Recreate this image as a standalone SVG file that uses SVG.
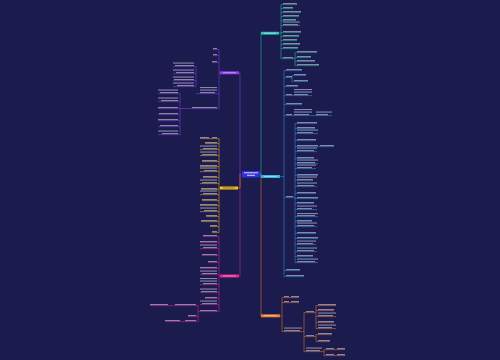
<svg xmlns="http://www.w3.org/2000/svg" width="500" height="360" viewBox="0 0 500 360">
<style>
.x{fill:#d0d0e8;opacity:.6}
.c{fill:none;stroke-width:.6}
.tl{stroke:#27b0a4}.cy{stroke:#2a8fd0}.or{stroke:#d0702a}.ye{stroke:#d8a418}.mg{stroke:#c8248e}.pu{stroke:#7a3cd8}
.nt{opacity:.55}
</style>
<rect width="500" height="360" fill="#1c1b4d"/>
<g id="connectors">
<path class="c pu" d="M242 174H240V73H239"/>
<path class="c ye" d="M240 174V188H238"/>
<path class="c mg" d="M240 174V276H239"/>
<path class="c tl" d="M260 174H261V33"/>
<path class="c cy" d="M260 174H261V177"/>
<path class="c or" d="M261 174V316"/>
<path class="c tl" d="M279 33H281M281 4.6V58.6M281 4.6H297M281 8.6H293M281 12.6H301M281 16.6H299M281 20.6H296M281 25.6H300M281 32.6H301M281 36.6H299M281 40.6H297M281 44.6H300M281 48.6H298M281 58.6H295M295 52.6V65.6M295 52.6H317M295 57.6H311M295 61.6H315M295 65.6H319"/>
<path class="c cy" d="M280 176.6H284M284 70.6V276.6M284 70.6H302M284 77.6H292M292 75.6V81.6M292 75.6H306M292 81.6H308M284 86.6H298M284 95.6H294H312M284 104.6H302M284 115.6H312H316H332M284 197.6H295M295 123.6V262.6M284 270.6H300M284 276.6H304"/>
<path class="c cy" d="M295 123.6H317M295 128.6H315M295 133.6H318M295 140.6H316M295 146.6H318H320H334M295 151.6H317M295 158.6H314M295 163.6H318M295 168.6H316M295 175.6H318M295 180.6H313M295 186.6H317M295 193.6H316M295 198.6H318M295 203.6H314M295 209.6H317M295 216.6H318M295 221.6H312M295 226.6H317M295 233.6H316M295 238.6H318M295 244.6H316M295 251.6H317M295 256.6H313M295 262.6H318"/>
<path class="c or" d="M280 316H282M282 297.6V331.6M282 297.6H289H299M282 302.6H289H299M282 331.6H304M304 312.6V351.6M304 312.6H316M316 305.6V328.6M316 305.6H336M316 310.6H334M316 316.6H336M316 322.6H334M316 328.6H336M304 336.6H316M316 334.6V341.6M316 334.6H332M316 341.6H330M304 351.6H324M324 349.6V355.6M324 349.6H334H337H345M324 355.6H334H337H345"/>
<path class="c pu" d="M220 73H219M219 49.6V108.6M219 49.6H213M219 55.6H213M219 62.6H212M219 93.6H200H196M196 66.6V86.6M196 66.6H173M196 73.6H173M196 80.6H173M196 86.6H173M219 108.6H192H180M180 93.6V134.6M180 93.6H158M180 101.6H158M180 108.6H158M180 114.6H158M180 120.6H158M180 126.6H158M180 134.6H158"/>
<path class="c ye" d="M220 188H219M219 138.6V232.6M219 138.6H200M219 143.6H205M219 149.6H200M219 155.6H200M219 161.6H202M219 166.6H200M219 171.6H200M219 177.6H203M219 183.6H200M219 189.6H201M219 194.6H200M219 200.6H202M219 205.6H200M219 211.6H200M219 216.6H206M219 221.6H201M219 226.6H210M219 232.6H212"/>
<path class="c mg" d="M220 276H219M219 236.6V311.6M219 236.6H203M219 242.6H200M219 248.6H200M219 255.6H202M219 262.6H208M219 268.6H200M219 274.6H200M219 284.6H200M219 292.6H200M219 298.6H205M219 304.6H200M219 311.6H200H198M198 305.6V321.6M198 305.6H175H168H150M198 316.6H188M198 321.6H185H180H165"/>
</g>
<g id="center"><rect x="242" y="171" width="18" height="6.5" fill="#3030e0"/><rect x="244" y="172.3" width="14" height="1" fill="#fff" opacity=".8"/><rect x="247" y="174.8" width="8" height="1" fill="#fff" opacity=".8"/></g>
<g id="b-teal"><rect x="261" y="31.8" width="18" height="2.8" fill="#2ec4b6"/><rect class="nt" x="264" y="32.8" width="12" height=".9" fill="#e8fffb"/></g>
<g id="b-cyan"><rect x="261" y="175" width="19" height="3" fill="#35b8e0"/><rect class="nt" x="264" y="176" width="13" height=".9" fill="#e8f8ff"/></g>
<g id="b-orange"><rect x="261" y="314.3" width="19" height="3" fill="#e8822e"/><rect class="nt" x="264" y="315.3" width="13" height=".9" fill="#fff2e6"/></g>
<g id="b-purple"><rect x="220" y="71.3" width="19" height="3" fill="#8e40f0"/><rect class="nt" x="223" y="72.3" width="13" height=".9" fill="#f2e8ff"/></g>
<g id="b-yellow"><rect x="220" y="186.5" width="18" height="3" fill="#f2c21c"/><rect class="nt" x="223" y="187.5" width="12" height=".9" fill="#4a3a00"/></g>
<g id="b-magenta"><rect x="220" y="274.5" width="19" height="3" fill="#e2268f"/><rect class="nt" x="223" y="275.5" width="13" height=".9" fill="#ffe8f4"/></g>
<g id="leaves-teal" class="x">
<rect x="283" y="3" width="14" height="1.1"/><rect x="283" y="7" width="10" height="1.1"/><rect x="283" y="11" width="18" height="1.1"/><rect x="283" y="15" width="16" height="1.1"/><rect x="283" y="19" width="13" height="1.1"/><rect x="283" y="21.5" width="17" height="1.1"/><rect x="283" y="24" width="15" height="1.1"/><rect x="283" y="31" width="18" height="1.1"/><rect x="283" y="35" width="16" height="1.1"/><rect x="283" y="39" width="14" height="1.1"/><rect x="283" y="43" width="17" height="1.1"/><rect x="283" y="47" width="15" height="1.1"/><rect x="283" y="57" width="10" height="1.1"/>
<rect x="297" y="51" width="20" height="1.1"/><rect x="297" y="56" width="14" height="1.1"/><rect x="297" y="60" width="18" height="1.1"/><rect x="297" y="64" width="22" height="1.1"/>
</g>
<g id="leaves-cyan" class="x">
<rect x="286" y="69" width="16" height="1.1"/><rect x="286" y="76" width="6" height="1.1"/><rect x="294" y="74" width="12" height="1.1"/><rect x="294" y="80" width="14" height="1.1"/><rect x="286" y="85" width="12" height="1.1"/><rect x="286" y="94" width="6" height="1.1"/><rect x="294" y="89" width="18" height="1.1"/><rect x="294" y="91.5" width="18" height="1.1"/><rect x="294" y="94" width="14" height="1.1"/><rect x="286" y="103" width="16" height="1.1"/><rect x="286" y="114" width="6" height="1.1"/><rect x="294" y="109" width="18" height="1.1"/><rect x="294" y="111.5" width="18" height="1.1"/><rect x="294" y="114" width="15" height="1.1"/><rect x="316" y="111.5" width="16" height="1.1"/><rect x="316" y="114" width="12" height="1.1"/><rect x="286" y="196" width="7" height="1.1"/><rect x="286" y="269" width="14" height="1.1"/><rect x="286" y="275" width="18" height="1.1"/>
<rect x="297" y="122" width="20" height="1.1"/><rect x="297" y="127" width="18" height="1.1"/><rect x="297" y="129.5" width="21" height="1.1"/><rect x="297" y="132" width="16" height="1.1"/><rect x="297" y="139" width="19" height="1.1"/><rect x="297" y="145" width="21" height="1.1"/><rect x="320" y="145" width="14" height="1.1"/><rect x="297" y="147.5" width="20" height="1.1"/><rect x="297" y="150" width="17" height="1.1"/><rect x="297" y="157" width="17" height="1.1"/><rect x="297" y="159.5" width="21" height="1.1"/><rect x="297" y="162" width="18" height="1.1"/><rect x="297" y="164.5" width="19" height="1.1"/><rect x="297" y="167" width="15" height="1.1"/><rect x="297" y="174" width="21" height="1.1"/><rect x="297" y="176.5" width="20" height="1.1"/><rect x="297" y="179" width="16" height="1.1"/><rect x="297" y="182.5" width="20" height="1.1"/><rect x="297" y="185" width="17" height="1.1"/><rect x="297" y="192" width="19" height="1.1"/><rect x="297" y="197" width="21" height="1.1"/><rect x="297" y="202" width="17" height="1.1"/><rect x="297" y="205.5" width="20" height="1.1"/><rect x="297" y="208" width="15" height="1.1"/><rect x="297" y="213" width="21" height="1.1"/><rect x="297" y="215" width="18" height="1.1"/><rect x="297" y="220" width="15" height="1.1"/><rect x="297" y="222.5" width="20" height="1.1"/><rect x="297" y="225" width="17" height="1.1"/><rect x="297" y="232" width="19" height="1.1"/><rect x="297" y="237" width="21" height="1.1"/><rect x="297" y="240.5" width="19" height="1.1"/><rect x="297" y="243" width="16" height="1.1"/><rect x="297" y="247.5" width="20" height="1.1"/><rect x="297" y="250" width="17" height="1.1"/><rect x="297" y="255" width="16" height="1.1"/><rect x="297" y="258.5" width="21" height="1.1"/><rect x="297" y="261" width="18" height="1.1"/>
</g>
<g id="leaves-orange" class="x">
<rect x="284" y="296" width="5" height="1.1"/><rect x="291" y="296" width="8" height="1.1"/><rect x="284" y="301" width="5" height="1.1"/><rect x="291" y="301" width="8" height="1.1"/><rect x="284" y="327.5" width="18" height="1.1"/><rect x="284" y="330" width="16" height="1.1"/><rect x="306" y="311" width="8" height="1.1"/>
<rect x="318" y="304" width="18" height="1.1"/><rect x="318" y="309" width="16" height="1.1"/><rect x="318" y="312.5" width="18" height="1.1"/><rect x="318" y="315" width="15" height="1.1"/><rect x="318" y="321" width="16" height="1.1"/><rect x="318" y="324.5" width="18" height="1.1"/><rect x="318" y="327" width="14" height="1.1"/><rect x="306" y="335" width="8" height="1.1"/><rect x="318" y="333" width="14" height="1.1"/><rect x="318" y="340" width="12" height="1.1"/><rect x="306" y="347.5" width="16" height="1.1"/><rect x="306" y="350" width="14" height="1.1"/><rect x="326" y="348" width="8" height="1.1"/><rect x="337" y="348" width="8" height="1.1"/><rect x="326" y="354" width="8" height="1.1"/><rect x="337" y="354" width="8" height="1.1"/>
</g>
<g id="leaves-purple" class="x">
<rect x="213" y="48" width="4" height="1.1"/><rect x="213" y="54" width="4" height="1.1"/><rect x="212" y="61" width="5" height="1.1"/><rect x="200" y="87" width="17" height="1.1"/><rect x="200" y="89.5" width="17" height="1.1"/><rect x="200" y="92" width="15" height="1.1"/><rect x="192" y="107" width="25" height="1.1"/>
<rect x="173" y="62.5" width="21" height="1.1"/><rect x="175" y="65" width="19" height="1.1"/><rect x="173" y="69.5" width="21" height="1.1"/><rect x="176" y="72" width="18" height="1.1"/><rect x="173" y="76.5" width="21" height="1.1"/><rect x="174" y="79" width="20" height="1.1"/><rect x="173" y="82.5" width="21" height="1.1"/><rect x="177" y="85" width="17" height="1.1"/>
<rect x="158" y="89.5" width="20" height="1.1"/><rect x="160" y="92" width="18" height="1.1"/><rect x="158" y="97.5" width="20" height="1.1"/><rect x="161" y="100" width="17" height="1.1"/><rect x="158" y="107" width="20" height="1.1"/><rect x="159" y="113" width="19" height="1.1"/><rect x="158" y="119" width="20" height="1.1"/><rect x="160" y="125" width="18" height="1.1"/><rect x="158" y="130.5" width="20" height="1.1"/><rect x="162" y="133" width="16" height="1.1"/>
</g>
<g id="leaves-yellow" class="x">
<rect x="200" y="137" width="9" height="1.1"/><rect x="212" y="137" width="5" height="1.1"/><rect x="205" y="142" width="12" height="1.1"/><rect x="200" y="145.5" width="17" height="1.1"/><rect x="203" y="148" width="14" height="1.1"/><rect x="200" y="151.5" width="17" height="1.1"/><rect x="202" y="154" width="15" height="1.1"/><rect x="202" y="160" width="15" height="1.1"/><rect x="200" y="165" width="17" height="1.1"/><rect x="200" y="167.5" width="17" height="1.1"/><rect x="204" y="170" width="13" height="1.1"/><rect x="203" y="176" width="14" height="1.1"/><rect x="200" y="179.5" width="17" height="1.1"/><rect x="202" y="182" width="15" height="1.1"/><rect x="201" y="188" width="16" height="1.1"/><rect x="200" y="190.5" width="17" height="1.1"/><rect x="203" y="193" width="14" height="1.1"/><rect x="202" y="199" width="15" height="1.1"/><rect x="200" y="204" width="17" height="1.1"/><rect x="200" y="207.5" width="17" height="1.1"/><rect x="204" y="210" width="13" height="1.1"/><rect x="206" y="215" width="11" height="1.1"/><rect x="201" y="220" width="16" height="1.1"/><rect x="210" y="225" width="7" height="1.1"/><rect x="212" y="231" width="5" height="1.1"/>
</g>
<g id="leaves-magenta" class="x">
<rect x="203" y="235" width="14" height="1.1"/><rect x="200" y="241" width="17" height="1.1"/><rect x="200" y="244.5" width="17" height="1.1"/><rect x="203" y="247" width="14" height="1.1"/><rect x="202" y="254" width="15" height="1.1"/><rect x="208" y="261" width="9" height="1.1"/><rect x="200" y="267" width="17" height="1.1"/><rect x="200" y="270.5" width="17" height="1.1"/><rect x="202" y="273" width="15" height="1.1"/><rect x="200" y="278" width="17" height="1.1"/><rect x="200" y="280.5" width="17" height="1.1"/><rect x="203" y="283" width="14" height="1.1"/><rect x="200" y="288.5" width="17" height="1.1"/><rect x="201" y="291" width="16" height="1.1"/><rect x="205" y="297" width="12" height="1.1"/><rect x="200" y="300.5" width="17" height="1.1"/><rect x="202" y="303" width="15" height="1.1"/><rect x="200" y="310" width="17" height="1.1"/>
<rect x="175" y="304" width="21" height="1.1"/><rect x="150" y="304" width="18" height="1.1"/><rect x="188" y="315" width="8" height="1.1"/><rect x="185" y="320" width="11" height="1.1"/><rect x="165" y="320" width="15" height="1.1"/>
</g>
</svg>
